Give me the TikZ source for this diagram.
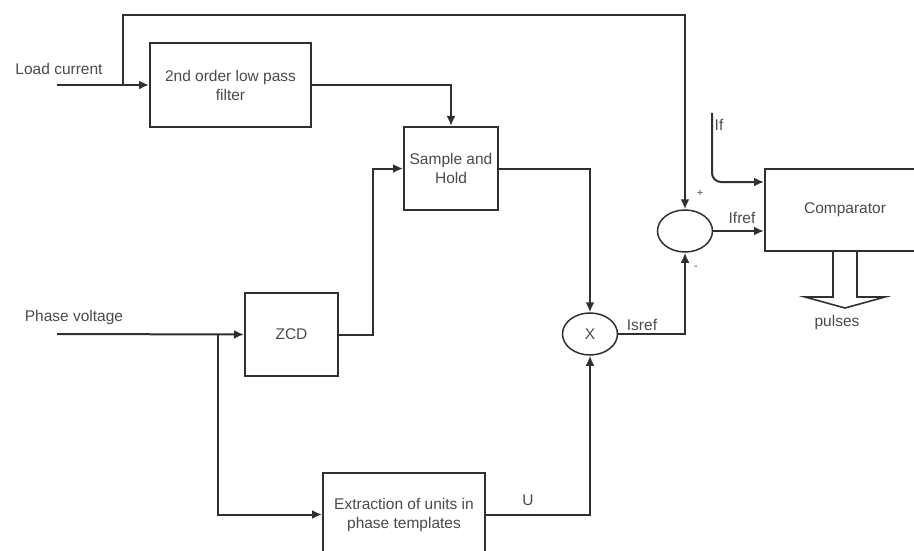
\documentclass[tikz,border=0pt]{standalone}
\usepackage{fontspec}
\setmainfont{Liberation Sans}
\usepackage{tikz}
\usetikzlibrary{arrows.meta}
\usetikzlibrary{shapes.geometric}
\definecolor{linegray}{HTML}{303030}
\definecolor{textgray}{HTML}{4A4A4A}
\tikzset{
    sigarrow/.style={-{Latex[length=10pt,width=9pt]}, line width=2pt, draw=linegray},
    sigline/.style={-, line width=2pt, draw=linegray},
    blockbox/.style={draw=linegray, line width=2pt, rectangle, align=center, inner sep=0pt, text=textgray},
    sumcirc/.style={draw=linegray, line width=1.5pt, ellipse, minimum width=55pt, minimum height=42pt, inner sep=0pt, text=textgray},
    lbl/.style={text=textgray, inner sep=0pt}
}

\begin{document}
\begin{tikzpicture}[x=1pt,y=-1pt,font=\fontsize{15.5}{19}\selectfont]
    \useasboundingbox (0,0) rectangle (914,551);
    \clip (0,0) rectangle (914,551);

    \node[lbl] at (59,69) {Load current};
    \node[lbl] at (74,317) {Phase voltage};
    \coordinate (lcin) at (57,85);
    \coordinate (lcbr) at (123,85);
    \coordinate (fbtop) at (123,15);
    \coordinate (pvin) at (57,334);
    \coordinate (pvbr) at (218,334);
    \coordinate (ifin) at (712,113);

    \node[blockbox, minimum width=161pt, minimum height=84pt] (filter) at (230.5,85) {2nd order low pass\\filter};
    \node[blockbox, minimum width=94pt, minimum height=83pt] (sh) at (451,168.5) {Sample and\\Hold};
    \node[blockbox, minimum width=93pt, minimum height=83pt] (zcd) at (291.5,334.5) {ZCD};
    \node[blockbox, minimum width=162pt, minimum height=83pt] (ext) at (404,514.5) {Extraction of units in\\phase templates};
    \node[blockbox, minimum width=160pt, minimum height=82pt] (comp) at (845,210) {Comparator};
    \node[sumcirc] (mult) at (590,334) {X};
    \node[sumcirc] (sum) at (685,231) {};

    \node[lbl] at (719,125) {If};
    \node[lbl] at (742,218) {Ifref};
    \node[lbl] at (642,325) {Isref};
    \node[lbl] at (528,500) {U};
    \node[lbl, font=\fontsize{11}{13}\selectfont] at (700,193) {+};
    \node[lbl, font=\fontsize{11}{13}\selectfont] at (696,268) {-};
    \node[lbl] at (837,322) {pulses};

    \draw [sigarrow](lcin) -- (filter.west);
    \draw [sigarrow](lcbr) -- (fbtop) -| (sum.north);
    \draw [sigarrow](filter.east) -| (sh.north);
    \draw [sigarrow](pvin) -- (zcd.west);
    \draw [sigarrow](pvbr) |- (ext.west);
    \draw [sigarrow](zcd.east) -- ++(34,0) |- (sh.west);
    \draw [sigarrow](sh.east) -| (mult.north);
    \draw [sigarrow](ext.east) -| (mult.south);
    \draw [sigarrow](mult.east) -| (sum.south);
    \draw [sigarrow](sum.east) -- (sum.east -| comp.west);
    \draw [sigarrow, rounded corners=9pt](ifin) |- ([yshift=28pt]comp.west);

    \draw [sigline, line width=1.6pt, shift={(comp.south)}] (-12,0) -- (-12,45) -- (-40,45) -- (0,56) -- (40,45) -- (12,45) -- (12,0);
\end{tikzpicture}
\end{document}
